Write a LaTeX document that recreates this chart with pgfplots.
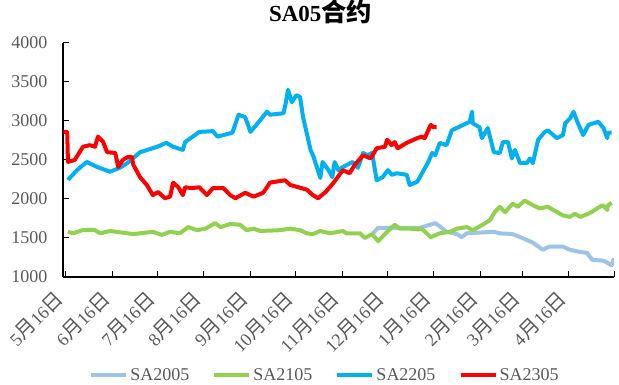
\documentclass[border=0pt]{standalone}
\usepackage{fontspec}
\setmainfont{Liberation Serif}
\newfontfamily\cjk[Scale=1.1]{Noto Sans CJK SC}
\usepackage{pgfplots}
\pgfplotsset{compat=1.18}
\usepackage{pgfplotstable}
\definecolor{tickgray}{HTML}{595959}
\definecolor{cA}{HTML}{9DC3E6}
\definecolor{cB}{HTML}{92D050}
\definecolor{cC}{HTML}{00B0F0}
\definecolor{cD}{HTML}{FF0000}
\newcommand{\dl}[1]{#1{\cjk 月}16{\cjk 日}}

\pgfplotstableread{
x y
204.5 1560
208 1630
222.5 1630
236 1630
239 1650
246 1690
249 1650
253.5 1580
260.5 1550
263.5 1510
267 1560
285 1580
289 1560
297.5 1550
304 1500
311 1440
317.5 1350
322 1390
331 1390
335.5 1350
342.5 1320
347 1310
350.5 1220
358 1210
363.5 1150
365 1240
}\sa

\pgfplotstableread{
x y
1.5 1580
5 1560
11 1600
19.5 1600
23 1560
29.5 1590
45 1550
58 1580
64 1540
69.5 1580
76 1560
81.5 1640
87.5 1600
93 1620
99.5 1690
103 1640
109.5 1680
116 1670
120.5 1600
125 1620
129.5 1590
142.5 1600
149.5 1620
156 1600
160.5 1560
164.5 1550
169.5 1590
176 1560
184.5 1590
187 1560
196 1560
199 1500
204 1550
208 1460
214 1580
219 1670
222.5 1620
229 1620
234.5 1610
237 1620
243 1510
249 1560
256 1580
260.5 1620
267 1640
271 1600
277.5 1670
282.5 1730
285.5 1830
289 1900
292.5 1830
297.5 1940
301 1900
305.5 1980
311 1920
315.5 1880
321 1900
324.5 1860
331 1790
335.5 1770
339 1810
342.5 1770
349 1820
355.5 1900
357.5 1920
360.5 1860
361 1920
363.5 1950
}\sb

\pgfplotstableread{
x y
1.5 2244
7.5 2370
14 2475
21 2410
29.5 2350
36 2400
41 2460
49.5 2600
61 2670
67 2720
71.5 2670
78 2630
79.5 2730
89 2860
98 2870
101 2800
111 2850
115 3080
119.5 3050
123 2860
129.5 3010
134 3120
136 3080
145 3100
146.5 3230
148 3400
150.5 3240
153.5 3330
156 3310
158 3050
163 2630
165 2540
169.5 2270
171 2475
175 2370
177.5 2280
179 2475
181.5 2370
184.5 2410
191 2475
194.5 2400
198 2590
201 2560
204 2590
207 2240
211 2280
214.5 2370
217 2310
220.5 2330
227 2310
229 2180
234 2220
241 2460
244 2590
246 2560
249 2720
253.5 2690
257 2880
269 2990
270.5 3120
271 2970
275.5 2920
277 2780
281 2910
285 2600
289 2590
291 2730
294.5 2730
297 2520
299 2630
302.5 2460
307 2460
309 2520
311 2460
314.5 2760
319 2860
321 2880
327 2780
331 2820
332.5 2970
336 3040
338 3120
341 2970
344.5 2820
348 2950
354.5 2990
358 2910
360.5 2780
361 2850
363.5 2850
}\sc

\pgfplotstableread{
x y
-1.5 2860
1 2860
1.5 2475
6 2500
11.5 2670
16 2690
19.5 2670
21.5 2800
25 2730
27.5 2600
33 2590
35 2410
38 2500
41.5 2540
44 2540
45 2440
49.5 2280
54 2180
58 2050
61.5 2090
66 2010
69.5 2030
71.5 2210
75 2150
78 2050
79.5 2150
84 2140
89 2150
94 2050
98 2140
105 2140
109.5 2050
113 2010
119.5 2080
125 2030
131.5 2080
136 2210
146 2240
149.5 2180
160.5 2120
164.5 2050
168 2010
173 2090
178 2200
184.5 2370
189 2330
192.5 2440
198 2560
203 2520
207 2650
212.5 2670
214 2760
217 2690
219 2730
221 2650
227 2720
234 2780
237 2800
239 2780
243 2950
245 2920
247 2920
}\sd

\begin{document}
\begin{tikzpicture}
\useasboundingbox (-63pt,-108pt) rectangle (556pt,277pt);
\begin{axis}[
  at={(0,0)}, anchor=south west,
  scale only axis, width=551pt, height=234pt,
  xmin=-1.8, xmax=365, ymin=1000, ymax=4000,
  ytick={1000,1500,...,4000},
  xtick={0,31,61,92,123,153,184,214,245,276,304,335,365},
  xticklabels={\dl{5},\dl{6},\dl{7},\dl{8},\dl{9},\dl{10},\dl{11},\dl{12},\dl{1},\dl{2},\dl{3},\dl{4},{}},
  axis x line*=bottom, axis y line*=left,
  axis line style={line width=1.2pt, black},
  tick align=inside, major tick length=6pt,
  tick style={line width=1pt, black},
  /pgf/number format/assume math mode=true,
  /pgf/number format/1000 sep={},
  ticklabel style={font=\fontsize{18}{18}\selectfont, text=tickgray},
  yticklabel style={xshift=-12pt},
  xticklabel style={xshift=-6pt, yshift=-18pt, rotate=45, anchor=east, inner sep=0pt},
  every axis plot/.append style={line width=4pt, line join=round, mark=none},
  legend columns=4,
  legend style={at={(0.4755,-0.419)}, anchor=center, draw=none, fill=none,
    font=\fontsize{18}{18}\selectfont, text=tickgray,
    /tikz/every even column/.append style={column sep=21pt}},
  legend image code/.code={\draw[#1, line width=4pt] (0pt,0pt) -- (35pt,0pt);},
]
\addplot[cA] table {\sa};
\addplot[cB] table {\sb};
\addplot[cC] table {\sc};
\addplot[cD] table {\sd};
\legend{SA2005,SA2105,SA2205,SA2305}
\end{axis}
\node[font=\bfseries\fontsize{23}{23}\selectfont] at (257.5pt,265pt) {SA05{\cjk\bfseries 合约}};
\end{tikzpicture}
\end{document}
